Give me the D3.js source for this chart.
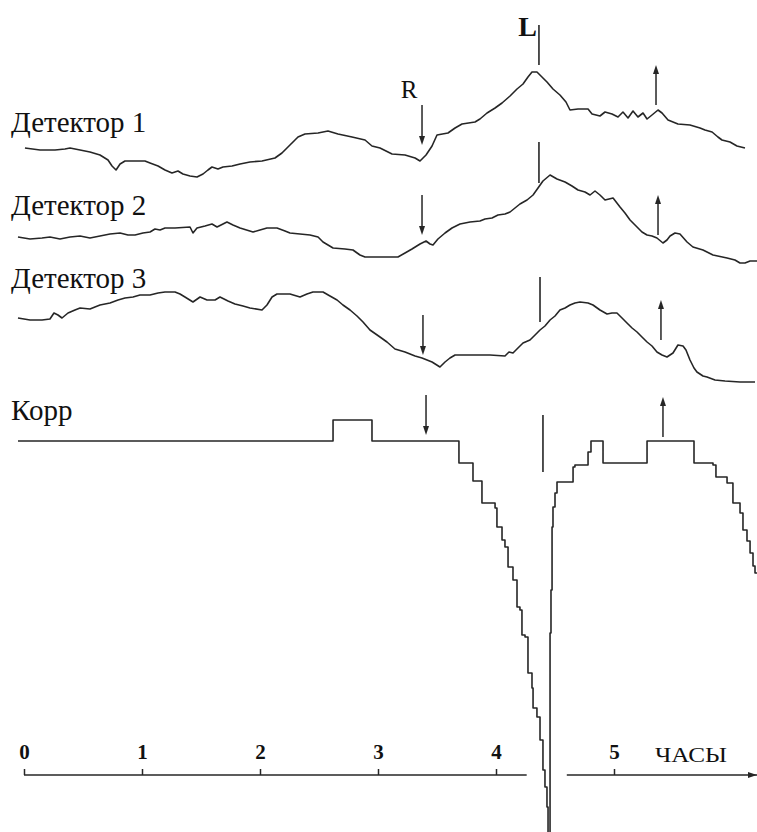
<!DOCTYPE html>
<html>
<head>
<meta charset="utf-8">
<script src="https://cdn.jsdelivr.net/npm/d3@7/dist/d3.min.js"></script>
<style>
    body { margin: 0; background: #fff; }
    svg { display: block; }
</style>
</head>
<body>
<svg id="chart" width="757" height="832"></svg>
<script>
// hours on the time axis
var hourTicks = [0, 1, 2, 3, 4, 5];
var trackNames = ["Детектор 1", "Детектор 2", "Детектор 3", "Корр"];

// [time, hours ; signal, arbitrary units]
var det1 = [[0.008,32],[0.136,30],[0.263,30],[0.347,31],[0.390,32],[0.475,30],[0.559,28],[0.644,25],[0.712,20],[0.746,14],
    [0.780,10],[0.814,16],[0.856,19],[1.025,19],[1.068,17],[1.136,14],[1.195,10],[1.254,7],[1.305,9],[1.347,6],
    [1.407,4],[1.466,3],[1.517,6],[1.559,10],[1.593,13],[1.644,11],[1.686,13],[1.763,14],[1.831,16],[1.915,18],
    [2.017,19],[2.127,22],[2.186,27],[2.254,35],[2.322,43],[2.381,46],[2.492,47],[2.576,49],[2.661,46],[2.780,43],
    [2.890,40],[2.949,34],[3.017,32],[3.119,26],[3.229,25],[3.314,22],[3.356,19],[3.407,25],[3.458,34],[3.500,45],
    [3.593,47],[3.653,52],[3.712,56],[3.822,58],[3.864,61],[3.924,67],[3.992,72],[4.051,77],[4.119,84],[4.178,91],
    [4.229,96],[4.271,103],[4.305,108],[4.347,108],[4.381,104],[4.432,98],[4.483,91],[4.542,85],[4.593,78],[4.627,70],
    [4.695,71],[4.780,71],[4.814,66],[4.881,64],[4.924,68],[4.983,66],[5.034,63],[5.076,68],[5.119,62],[5.161,69],
    [5.203,63],[5.246,67],[5.280,61],[5.322,65],[5.373,70],[5.407,67],[5.458,60],[5.542,56],[5.644,55],[5.729,52],
    [5.771,50],[5.831,48],[5.881,43],[5.915,40],[5.983,38],[6.042,34],[6.110,32]];

var det2 = [[-0.051,28],[0.051,26],[0.153,27],[0.220,28],[0.305,26],[0.390,28],[0.475,29],[0.559,27],[0.644,29],[0.729,31],
    [0.814,32],[0.881,30],[0.941,30],[1.008,32],[1.068,33],[1.110,36],[1.153,35],[1.195,37],[1.280,37],[1.407,38],
    [1.432,32],[1.466,37],[1.534,39],[1.593,41],[1.636,38],[1.720,43],[1.771,40],[1.831,37],[1.941,33],[2.000,35],
    [2.059,37],[2.144,37],[2.212,34],[2.254,32],[2.339,31],[2.424,30],[2.492,28],[2.534,23],[2.619,17],[2.720,16],
    [2.788,15],[2.847,10],[2.890,8],[3.169,8],[3.229,12],[3.288,16],[3.356,21],[3.407,24],[3.441,21],[3.466,20],
    [3.508,26],[3.568,32],[3.627,37],[3.695,41],[3.780,43],[3.864,44],[3.907,46],[3.966,47],[4.017,50],[4.076,51],
    [4.119,53],[4.161,57],[4.203,61],[4.263,65],[4.314,70],[4.356,77],[4.398,84],[4.458,90],[4.517,86],[4.585,83],
    [4.644,79],[4.695,75],[4.754,73],[4.797,70],[4.839,74],[4.881,70],[4.924,65],[4.992,67],[5.051,58],[5.093,52],
    [5.136,45],[5.195,38],[5.237,33],[5.280,30],[5.322,29],[5.364,27],[5.415,22],[5.449,25],[5.475,29],[5.517,32],
    [5.559,31],[5.619,23],[5.669,18],[5.754,15],[5.839,10],[5.958,7],[6.025,5],[6.068,2],[6.110,2],[6.153,4],[6.212,4]];

var det3 = [[-0.051,67],[0.051,65],[0.153,65],[0.220,66],[0.254,72],[0.288,70],[0.322,67],[0.373,72],[0.432,75],[0.475,77],
    [0.559,76],[0.644,80],[0.729,82],[0.797,85],[0.856,87],[0.924,88],[0.983,90],[1.068,90],[1.136,92],[1.195,93],
    [1.280,93],[1.322,91],[1.364,88],[1.432,83],[1.492,88],[1.551,85],[1.619,85],[1.661,88],[1.729,84],[1.788,81],
    [1.856,79],[1.915,77],[2.017,75],[2.059,80],[2.102,88],[2.144,91],[2.254,91],[2.339,88],[2.398,91],[2.449,93],
    [2.534,93],[2.593,89],[2.653,85],[2.703,80],[2.763,75],[2.822,69],[2.873,63],[2.932,55],[3.017,48],[3.076,43],
    [3.144,36],[3.229,33],[3.314,29],[3.373,27],[3.458,23],[3.525,18],[3.568,23],[3.610,27],[3.653,30],[3.780,30],
    [3.949,30],[4.076,29],[4.110,33],[4.144,32],[4.186,37],[4.229,42],[4.288,45],[4.331,50],[4.373,55],[4.415,59],
    [4.458,65],[4.500,69],[4.542,75],[4.585,77],[4.627,80],[4.669,82],[4.712,83],[4.780,82],[4.822,80],[4.881,75],
    [4.941,71],[4.983,72],[5.025,72],[5.068,67],[5.110,62],[5.153,57],[5.195,53],[5.237,48],[5.280,43],[5.322,39],
    [5.364,33],[5.407,30],[5.449,28],[5.500,32],[5.542,40],[5.585,39],[5.610,35],[5.644,25],[5.678,17],[5.703,13],
    [5.754,9],[5.788,8],[5.856,5],[5.941,4],[6.068,3],[6.195,3]];

// correlation output, held until the next sample
var korr = [[-0.051,0],[2.619,21],[2.949,0],[3.686,-22],[3.805,-40],[3.881,-62],[3.992,-67],[4.008,-86],[4.051,-99],
    [4.076,-106],[4.102,-126],[4.144,-139],[4.178,-166],[4.203,-169],[4.220,-194],[4.246,-196],[4.271,-232],
    [4.305,-247],[4.314,-267],[4.347,-276],[4.373,-299],[4.398,-329],[4.415,-346],[4.432,-366],[4.441,-398],
    [4.458,-192],[4.466,-149],[4.475,-86],[4.483,-66],[4.500,-52],[4.517,-41],[4.653,-26],[4.669,-24],[4.780,-11],
    [4.805,0],[4.907,-22],[5.280,0],[5.678,-22],[5.839,-24],[5.864,-36],[5.958,-42],[6.008,-62],[6.068,-72],
    [6.093,-89],[6.127,-100],[6.153,-112],[6.178,-125],[6.195,-132],[6.220,-132]];

// markers per track: R arrow [time, tip], L bar [time, top, bottom], up arrow [time, tip]
var markR = [[3.373,35],[3.373,30],[3.381,30],[3.407,6]];
var markL = [[4.364,155,115],[4.364,123,82],[4.373,108,63],[4.398,26,-31]];
var markUp = [[5.356,115],[5.373,70],[5.398,85],[5.415,44]];

var svg = d3.select("#chart"),
    ink = "#262626",
    serif = "'Liberation Serif', 'DejaVu Serif', serif",
    x = d3.scaleLinear().domain([0, 5]).range([24, 614]),
    arrowLen = 40;

var tracks = [
    {data: det1, y: d3.scaleLinear().domain([0, 100]).range([180, 80]), labelY: 132, curve: d3.curveLinear},
    {data: det2, y: d3.scaleLinear().domain([0, 100]).range([265, 165]), labelY: 215, curve: d3.curveLinear},
    {data: det3, y: d3.scaleLinear().domain([0, 100]).range([385, 285]), labelY: 288, curve: d3.curveLinear},
    {data: korr, y: d3.scaleLinear().domain([0, -400]).range([441, 841]), labelY: 420, curve: d3.curveStepAfter}
];

tracks.forEach(function (tr, i) {
    var g = svg.append("g");
    var line = d3.line()
        .x(function (d) { return x(d[0]); })
        .y(function (d) { return tr.y(d[1]); })
        .curve(tr.curve);

    g.append("path")
        .attr("d", line(tr.data))
        .attr("fill", "none")
        .attr("stroke", ink)
        .attr("stroke-width", 1.6)
        .attr("stroke-linejoin", "round");

    g.append("text")
        .attr("x", 11)
        .attr("y", tr.labelY)
        .attr("font-family", serif)
        .attr("font-size", 29)
        .attr("fill", "#111")
        .text(trackNames[i]);

    // down arrow (R)
    var rx = x(markR[i][0]), ry = tr.y(markR[i][1]);
    g.append("line").attr("x1", rx).attr("x2", rx).attr("y1", ry - arrowLen).attr("y2", ry - 4)
        .attr("stroke", ink).attr("stroke-width", 1.5);
    g.append("path").attr("d", "M" + rx + "," + ry + "l-3,-9h6z").attr("fill", ink);

    // L bar
    var lx = x(markL[i][0]);
    g.append("line").attr("x1", lx).attr("x2", lx)
        .attr("y1", tr.y(markL[i][1])).attr("y2", tr.y(markL[i][2]))
        .attr("stroke", ink).attr("stroke-width", 1.6);

    // up arrow
    var ux = x(markUp[i][0]), uy = tr.y(markUp[i][1]);
    g.append("line").attr("x1", ux).attr("x2", ux).attr("y1", uy + 4).attr("y2", uy + arrowLen)
        .attr("stroke", ink).attr("stroke-width", 1.5);
    g.append("path").attr("d", "M" + ux + "," + uy + "l-3,9h6z").attr("fill", ink);

    if (i === 0) {
        g.append("text").attr("x", rx - 13).attr("y", ry - arrowLen - 7)
            .attr("text-anchor", "middle").attr("font-family", serif).attr("font-size", 25)
            .attr("fill", "#111").text("R");
        g.append("text").attr("x", lx - 2).attr("y", tr.y(markL[i][1]) + 11)
            .attr("text-anchor", "end").attr("font-family", serif).attr("font-size", 28)
            .attr("font-weight", "bold").attr("fill", "#111").text("L");
    }
});

// time axis, broken where the Korr dip passes through
var axisY = 775;
var axis = svg.append("g")
    .attr("transform", "translate(0," + axisY + ")")
    .call(d3.axisTop(x).tickValues(hourTicks).tickSize(6).tickPadding(10).tickFormat(d3.format("d")));
axis.select(".domain").remove();
axis.selectAll(".tick line").attr("stroke", ink).attr("stroke-width", 1.5);
axis.selectAll(".tick text")
    .attr("font-family", serif).attr("font-size", 21).attr("font-weight", "bold").attr("fill", "#111");

[[0, 4.26], [4.6, 6.22]].forEach(function (s) {
    axis.append("line").attr("x1", x(s[0])).attr("x2", x(s[1])).attr("y1", 0).attr("y2", 0)
        .attr("stroke", ink).attr("stroke-width", 1.5);
});
axis.append("path").attr("d", "M757,0l-9,-3v6z").attr("fill", ink);
axis.append("text").attr("x", 655).attr("y", -13)
    .attr("text-anchor", "start").attr("textLength", 72).attr("lengthAdjust", "spacingAndGlyphs")
    .attr("font-family", serif).attr("font-size", 22).attr("fill", "#111").text("ЧАСЫ");
</script>
</body>
</html>
